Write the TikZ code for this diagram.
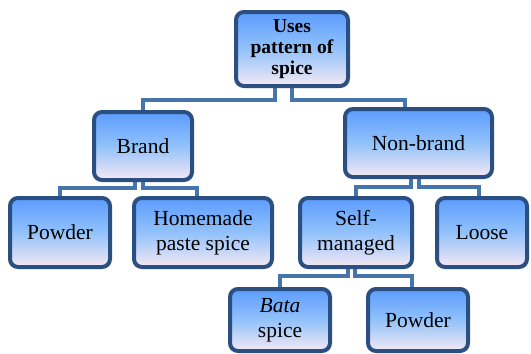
\documentclass[tikz,border=0pt]{standalone}
\usepackage{fontspec}
\setmainfont{Liberation Serif}
\usetikzlibrary{backgrounds,calc}
\definecolor{boxborder}{HTML}{2A4F80}
\definecolor{boxtop}{HTML}{5C9CFF}
\definecolor{boxmid}{HTML}{92C2FA}
\definecolor{boxbot}{HTML}{F5E9F4}
\definecolor{connc}{HTML}{4674AC}
\tikzset{
  box/.style={draw=boxborder, line width=4pt, rounded corners=8pt,
    top color=boxtop, bottom color=boxbot, middle color=boxmid,
    align=center, inner sep=2pt,
    font=\fontsize{21.5}{25}\selectfont},
  conn/.style={draw=connc, line width=4pt},
}
\begin{document}
\begin{tikzpicture}[x=1pt,y=-1pt]
\useasboundingbox (0,0) rectangle (531,354);
\node[box, minimum width=112pt, minimum height=74pt, font=\fontsize{19.5}{21}\selectfont\bfseries] (top) at (292,49) {Uses\\pattern of\\spice};
\node[box, minimum width=98pt, minimum height=68pt] (brand) at (143,146) {Brand};
\node[box, minimum width=147pt, minimum height=68pt] (nonbrand) at (418.5,143) {Non-brand};
\node[box, minimum width=100pt, minimum height=69pt] (powderL) at (60,232.5) {Powder};
\node[box, minimum width=138pt, minimum height=69pt] (homemade) at (203,232.5) {Homemade\\paste spice};
\node[box, minimum width=112pt, minimum height=69pt] (self) at (356,232.5) {Self-\\managed};
\node[box, minimum width=90pt, minimum height=69pt] (loose) at (482,232.5) {Loose};
\node[box, minimum width=100pt, minimum height=62pt] (bata) at (280,320) {\textit{Bata}\\spice};
\node[box, minimum width=100pt, minimum height=62pt] (powderB) at (418,320) {Powder};
\begin{scope}[on background layer]
\draw[conn] ([xshift=-17pt]top.south) -- ([xshift=-17pt]top.south |- 0,100) -| (brand.north);
\draw[conn] (top.south) -- (top.south |- 0,100) -| ([xshift=-14pt]nonbrand.north);
\draw[conn] ([xshift=-8pt]brand.south) -- ([xshift=-8pt]brand.south |- 0,188) -| (powderL.north);
\draw[conn] (brand.south) -- (brand.south |- 0,188) -| ([xshift=-6pt]homemade.north);
\draw[conn] ([xshift=-7.5pt]nonbrand.south) -- ([xshift=-7.5pt]nonbrand.south |- 0,187) -| (self.north);
\draw[conn] ([xshift=0.5pt]nonbrand.south) -- ([xshift=0.5pt]nonbrand.south |- 0,187) -| ([xshift=-3pt]loose.north);
\draw[conn] ([xshift=-8pt]self.south) -- ([xshift=-8pt]self.south |- 0,276) -| (bata.north);
\draw[conn] ([xshift=-1pt]self.south) -- ([xshift=-1pt]self.south |- 0,276) -| ([xshift=-6pt]powderB.north);
\end{scope}
\end{tikzpicture}
\end{document}
